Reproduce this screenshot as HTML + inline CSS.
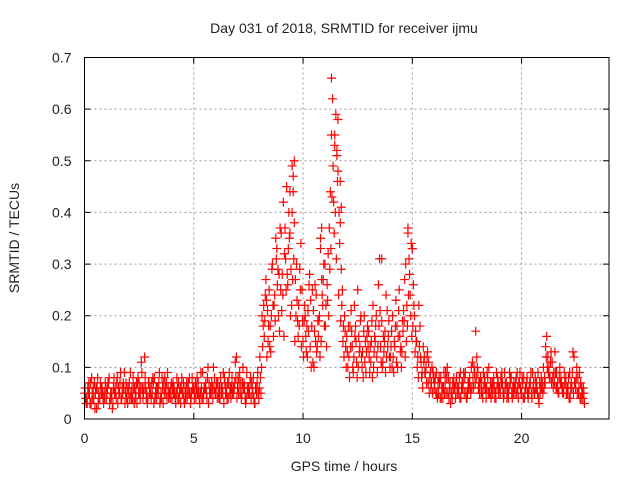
<!DOCTYPE html>
<html><head><meta charset="utf-8">
<style>
body{margin:0;background:#fff;}
svg{display:block;font-family:"Liberation Sans",sans-serif;}
</style></head>
<body>
<svg id="chart" width="640" height="480" viewBox="0 0 640 480">
<text x="344" y="33" font-size="14" text-anchor="middle" fill="#222">Day 031 of 2018, SRMTID for receiver ijmu</text>
<text x="344" y="471" font-size="14" text-anchor="middle" fill="#222">GPS time / hours</text>
<text transform="translate(19,238) rotate(-90)" font-size="14" text-anchor="middle" fill="#222">SRMTID / TECUs</text>
<g id="grid"></g>
<g id="ticks"></g>
<g id="marks"></g>
<rect x="84.5" y="57.5" width="524.5" height="361.5" fill="none" stroke="#000" stroke-width="1"/>
</svg>
<script>
const xTicks=[0,5,10,15,20];
const yTicks=[0,0.1,0.2,0.3,0.4,0.5,0.6,0.7];
const yTickLabels=["0","0.1","0.2","0.3","0.4","0.5","0.6","0.7"];
const seriesA=[.05,.04,.07,.03,.06,.05,.08,.04,.06,.05,
.04,.07,.05,.03,.06,.08,.05,.04,.06,.07,
.05,.09,.04,.06,.03,.07,.11,.05,.06,.04,
.06,.05,.08,.04,.07,.05,.03,.06,.09,.05,
.04,.06,.05,.07,.03,.05,.06,.04,.08,.05,
.06,.04,.07,.05,.09,.06,.04,.07,.05,.10,
.05,.07,.04,.06,.08,.05,.07,.04,.06,.11,
.06,.09,.05,.07,.04,.06,.08,.05,.03,.07,
.06,.10,.22,.27,.15,.18,.30,.24,.33,.28,
.36,.42,.31,.26,.44,.49,.38,.30,.22,.34,
.15,.20,.12,.28,.18,.10,.24,.16,.33,.22,
.30,.26,.37,.55,.42,.59,.48,.38,.25,.20,
.16,.12,.21,.09,.18,.25,.14,.10,.20,.13,
.17,.11,.22,.15,.09,.31,.19,.13,.24,.16,
.12,.20,.14,.18,.25,.10,.21,.30,.37,.24,
.33,.20,.15,.22,.11,.14,.09,.13,.08,.10,
.06,.09,.05,.08,.04,.07,.10,.06,.05,.08,
.07,.05,.09,.06,.08,.04,.07,.10,.06,.17,
.09,.07,.05,.08,.06,.10,.04,.07,.05,.08,
.06,.09,.05,.07,.04,.08,.06,.05,.09,.07,
.05,.08,.06,.04,.07,.09,.05,.06,.03,.08,
.10,.14,.12,.08,.11,.07,.09,.05,.08,.06,
.07,.05,.09,.06,.12,.08,.05,.07,.04];
const seriesB=[.04,.06,.03,.05,.07,.02,.05,.06,.04,.07,
.06,.03,.05,.08,.04,.06,.09,.05,.03,.06,
.07,.04,.06,.05,.08,.04,.06,.12,.05,.07,
.04,.07,.05,.06,.03,.08,.05,.07,.04,.06,
.07,.04,.06,.05,.08,.04,.05,.07,.03,.06,
.05,.08,.04,.06,.05,.07,.10,.05,.06,.08,
.07,.04,.06,.09,.05,.07,.05,.08,.06,.12,
.05,.07,.10,.04,.06,.05,.07,.04,.06,.05,
.08,.14,.19,.12,.25,.20,.16,.35,.29,.37,
.28,.32,.45,.40,.29,.47,.27,.19,.29,.25,
.19,.13,.17,.23,.11,.26,.14,.20,.27,.30,
.22,.32,.44,.62,.53,.51,.40,.29,.18,.14,
.10,.18,.14,.22,.11,.16,.20,.08,.15,.18,
.09,.19,.13,.20,.26,.14,.11,.17,.21,.12,
.17,.09,.23,.16,.13,.19,.27,.22,.31,.34,
.26,.17,.12,.18,.09,.12,.07,.11,.06,.09,
.08,.04,.07,.06,.09,.05,.08,.03,.07,.06,
.05,.08,.06,.09,.05,.07,.06,.11,.09,.12,
.07,.05,.09,.06,.08,.05,.07,.06,.09,.05,
.08,.05,.07,.06,.09,.05,.07,.08,.04,.06,
.07,.05,.08,.06,.05,.07,.06,.09,.05,.07,
.08,.16,.10,.13,.06,.09,.07,.10,.06,.09,
.05,.08,.06,.13,.07,.05,.09,.06,.05];
const seriesC=[.06,.03,.05,.08,.04,.06,.03,.07,.05,.04,
.05,.08,.04,.06,.05,.03,.07,.06,.09,.04,
.06,.05,.08,.04,.07,.05,.09,.06,.04,.07,
.05,.08,.04,.06,.09,.04,.07,.05,.06,.04,
.06,.05,.08,.04,.06,.07,.04,.06,.05,.08,
.04,.06,.05,.09,.04,.06,.08,.05,.07,.06,
.06,.05,.08,.05,.07,.04,.09,.06,.05,.08,
.08,.05,.07,.06,.09,.05,.04,.08,.06,.09,
.12,.20,.16,.23,.18,.13,.22,.19,.26,.17,
.21,.16,.25,.33,.20,.27,.15,.23,.18,.14,
.12,.16,.21,.14,.25,.17,.13,.19,.15,.27,
.18,.23,.29,.43,.36,.31,.24,.19,.15,.17,
.13,.08,.17,.12,.15,.10,.19,.13,.11,.16,
.12,.15,.10,.18,.14,.21,.10,.15,.12,.19,
.14,.12,.18,.10,.16,.13,.19,.15,.24,.20,
.18,.13,.10,.14,.08,.11,.10,.07,.09,.05,
.07,.05,.08,.04,.06,.09,.05,.07,.04,.06,
.08,.06,.04,.07,.09,.05,.08,.06,.10,.08,
.06,.08,.04,.07,.09,.05,.06,.08,.04,.07,
.05,.07,.09,.04,.06,.08,.05,.07,.06,.09,
.08,.04,.07,.05,.09,.06,.08,.05,.07,.06,
.06,.12,.09,.11,.08,.13,.06,.08,.07,.05,
.08,.06,.04,.09,.07,.10,.06,.04,.06];
const seriesD=[.03,.05,.07,.04,.02,.06,.04,.05,.03,.06,
.07,.04,.02,.05,.07,.05,.04,.07,.05,.03,
.04,.06,.03,.07,.05,.06,.04,.08,.03,.05,
.07,.03,.06,.05,.04,.06,.08,.04,.05,.07,
.05,.03,.04,.06,.05,.03,.07,.05,.04,.06,
.07,.05,.03,.04,.06,.05,.03,.06,.04,.05,
.04,.06,.05,.03,.06,.04,.06,.05,.07,.04,
.07,.04,.06,.03,.05,.07,.06,.03,.05,.04,
.05,.18,.24,.21,.14,.29,.22,.31,.20,.25,
.24,.37,.28,.35,.22,.31,.20,.16,.25,.19,
.22,.18,.26,.10,.21,.15,.19,.12,.24,.18,
.14,.20,.33,.49,.40,.46,.34,.22,.12,.10,
.18,.14,.10,.16,.08,.13,.12,.17,.09,.14,
.14,.08,.16,.12,.18,.11,.16,.09,.14,.10,
.10,.15,.11,.21,.14,.17,.12,.18,.28,.16,
.22,.15,.08,.12,.06,.09,.12,.05,.07,.08,
.05,.07,.04,.06,.05,.08,.04,.05,.06,.04,
.06,.04,.07,.05,.04,.06,.05,.08,.07,.10,
.05,.07,.06,.04,.05,.07,.05,.04,.06,.06,
.07,.04,.06,.05,.07,.04,.06,.05,.07,.05,
.04,.06,.05,.07,.04,.05,.07,.04,.06,.05,
.07,.10,.08,.07,.09,.06,.05,.07,.05,.07,
.06,.04,.07,.05,.06,.08,.04,.05,.03];
const peakTimes=[9.6,9.55,11.3,11.45,11.6,11.55,11.7,11.75,9.4,9.5,14.8,15.0,13.6,10.85,10.8];
const peakValues=[.50,.44,.66,.55,.58,.52,.46,.41,.36,.40,.36,.33,.31,.37,.35];
const STEP=0.1;
const X0=84.5,X1=609,Y0=419,Y1=57.5,XMAX=24,YMAX=0.7;
function xs(t){return X0+(X1-X0)*t/XMAX;}
function ys(v){return Y0-(Y0-Y1)*v/YMAX;}
const NS="http://www.w3.org/2000/svg";
const grid=document.getElementById('grid'),ticks=document.getElementById('ticks'),marks=document.getElementById('marks');
xTicks.forEach(t=>{
  const x=xs(t);
  if(t>0){const g=document.createElementNS(NS,'line');
  g.setAttribute('x1',x);g.setAttribute('x2',x);g.setAttribute('y1',Y1);g.setAttribute('y2',Y0);
  g.setAttribute('stroke','#999');g.setAttribute('stroke-dasharray','2,3');
  
  
  grid.appendChild(g);}
  const tk=document.createElementNS(NS,'path');
  tk.setAttribute('d',`M${x},${Y0}v-6M${x},${Y1}v6`);tk.setAttribute('stroke','#000');
  
  
  ticks.appendChild(tk);
  const l=document.createElementNS(NS,'text');
  l.setAttribute('x',x);l.setAttribute('y',Y0+24);l.setAttribute('font-size','14');l.setAttribute('text-anchor','middle');l.setAttribute('fill','#222');
  l.textContent=String(t);
  
  
  ticks.appendChild(l);
});
yTicks.forEach((v,i)=>{
  const y=ys(v);
  if(v>0&&v<YMAX){const g=document.createElementNS(NS,'line');
  g.setAttribute('x1',X0);g.setAttribute('x2',X1);g.setAttribute('y1',y);g.setAttribute('y2',y);
  g.setAttribute('stroke','#999');g.setAttribute('stroke-dasharray','2,3');
  
  
  grid.appendChild(g);}
  const tk=document.createElementNS(NS,'path');
  tk.setAttribute('d',`M${X0},${y}h6M${X1},${y}h-6`);tk.setAttribute('stroke','#000');
  
  
  ticks.appendChild(tk);
  const l=document.createElementNS(NS,'text');
  l.setAttribute('x',X0-13);l.setAttribute('y',y+5);l.setAttribute('font-size','14');l.setAttribute('text-anchor','end');l.setAttribute('fill','#222');
  l.textContent=yTickLabels[i];
  
  
  ticks.appendChild(l);
});
function plus(t,v){
  const x=xs(t),y=ys(v);
  const p=document.createElementNS(NS,'path');
  p.setAttribute('d',`M${x-4.5},${y}h9M${x},${y-4.5}v9`);
  p.setAttribute('stroke','#f00');p.setAttribute('stroke-width','1.2');
  
  
  marks.appendChild(p);
}
seriesA.forEach((v,i)=>plus(i*STEP,v));
seriesB.forEach((v,i)=>plus(i*STEP+STEP/2,v));
seriesC.forEach((v,i)=>plus(i*STEP+STEP/4,v));
seriesD.forEach((v,i)=>plus(i*STEP+3*STEP/4,v));
peakTimes.forEach((t,i)=>plus(t,peakValues[i]));
</script>
</body></html>
